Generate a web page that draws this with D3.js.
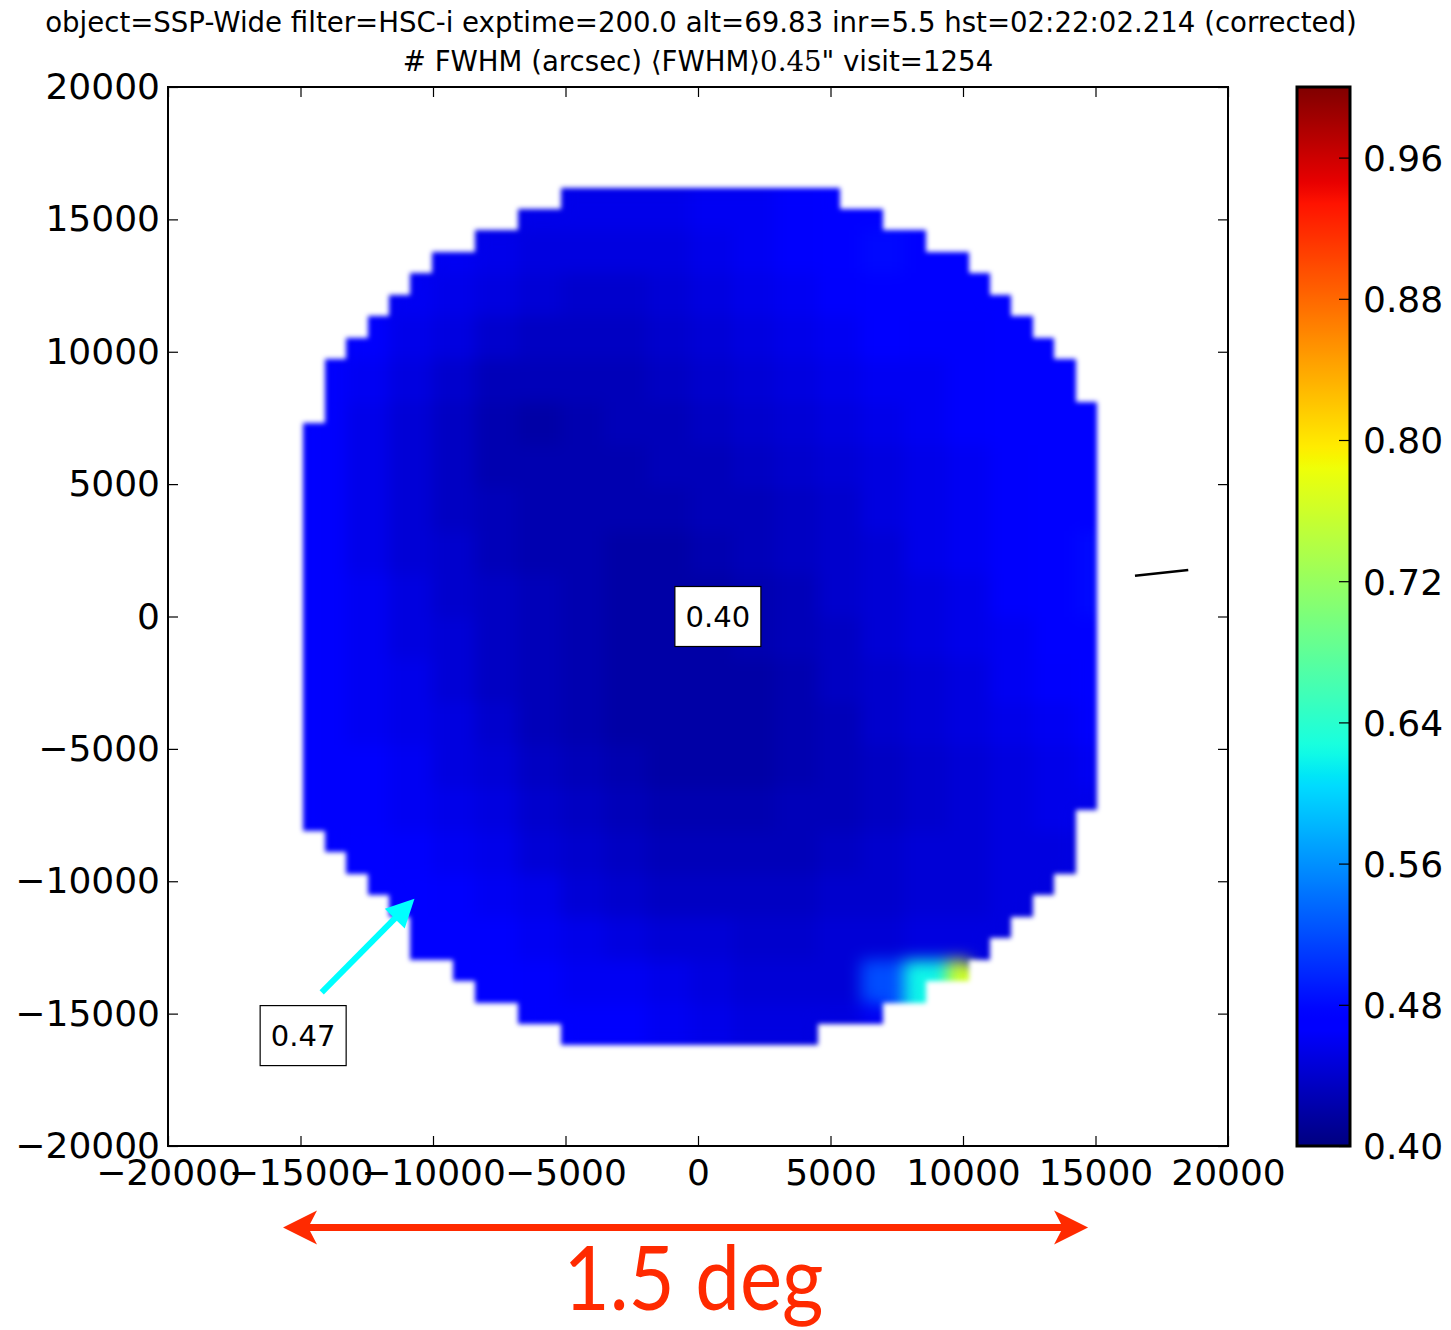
<!DOCTYPE html>
<html>
<head>
<meta charset="utf-8">
<script src="https://cdn.jsdelivr.net/npm/d3@7"></script>
<style>
  body { margin: 0; background: #fff; }
  svg { display: block; }
</style>
</head>
<body>
<svg id="chart" width="1451" height="1330"></svg>
<script>
// ---- FWHM map: focal-plane grid (pixel units), 2x2-cell blocks of FWHM (arcsec) ----
const cellSize = 810;
const gridX0 = -14900;   // left edge of column 0
const gridY0 = 16200;    // top edge of row 0

// detector footprint: first / last column covered in each grid row (top to bottom)
const rowFirst = [12,10,8,6,5,4,3,2,1,1,1,0,0,0,0,0,0,0,0,0,0,0,0,0,0,0,0,0,0,0,1,2,3,4,5,5,7,8,10,12];
const rowLast  = [24,26,28,30,31,32,33,34,35,35,36,36,36,36,36,36,36,36,36,36,36,36,36,36,36,36,36,36,36,35,35,35,34,33,32,31,30,28,26,23];

// FWHM per block (block row = 2 grid rows, block column = 2 grid columns)
const fwhm = [
  [null,null,null,null,null,.455,.455,.455,.455,.46,.46,.465,.47,.475,null,null,null,null,null],
  [null,null,null,.46,.455,.45,.45,.45,.45,.455,.46,.465,.475,.48,.47,.47,null,null,null],
  [null,null,.46,.455,.45,.445,.44,.44,.445,.45,.455,.46,.465,.47,.47,.47,.47,null,null],
  [null,.465,.455,.45,.44,.435,.435,.435,.44,.445,.45,.455,.46,.475,.465,.465,.47,.47,null],
  [.465,.46,.45,.44,.43,.43,.43,.43,.435,.44,.445,.45,.455,.46,.46,.465,.47,.47,null],
  [.465,.455,.445,.435,.425,.42,.425,.43,.43,.435,.44,.445,.45,.455,.46,.465,.47,.47,.47],
  [.465,.455,.445,.435,.425,.425,.425,.425,.43,.43,.435,.44,.445,.45,.455,.46,.465,.475,.47],
  [.465,.455,.445,.435,.43,.425,.425,.425,.425,.43,.43,.435,.44,.45,.455,.46,.465,.475,.475],
  [.465,.455,.445,.44,.43,.425,.425,.42,.42,.425,.43,.435,.44,.445,.455,.46,.465,.475,.48],
  [.465,.46,.45,.44,.435,.43,.425,.42,.42,.42,.425,.43,.44,.445,.45,.455,.465,.475,.48],
  [.465,.46,.45,.445,.435,.43,.425,.42,.42,.42,.425,.43,.435,.445,.45,.455,.46,.47,.475],
  [.465,.46,.455,.445,.435,.43,.425,.42,.42,.42,.42,.425,.435,.44,.445,.45,.46,.465,.47],
  [.465,.46,.455,.45,.44,.43,.425,.42,.42,.42,.42,.425,.43,.44,.445,.45,.455,.46,.465],
  [.465,.465,.46,.45,.445,.435,.43,.425,.42,.42,.42,.425,.43,.435,.44,.445,.45,.455,.46],
  [.465,.465,.46,.455,.45,.44,.435,.43,.425,.425,.425,.43,.43,.435,.44,.445,.45,.455,.455],
  [.465,.47,.465,.46,.455,.445,.44,.435,.43,.43,.43,.43,.435,.44,.445,.445,.45,.45,null],
  [null,.47,.47,.465,.46,.455,.445,.44,.435,.435,.435,.435,.44,.44,.445,.445,.45,.45,null],
  [null,null,.47,.47,.465,.46,.455,.45,.445,.445,.44,.44,.445,.445,.45,.45,.45,null,null],
  [null,null,null,.47,.47,.465,.46,.46,.455,.45,.445,.445,.445,.52,.62,.76,null,null,null],
  [null,null,null,null,null,.465,.465,.465,.46,.455,.45,.45,.45,.46,null,null,null,null,null]
];

// axis ticks
const xTicks = [-20000,-15000,-10000,-5000,0,5000,10000,15000,20000];
const yTicks = [-20000,-15000,-10000,-5000,0,5000,10000,15000,20000];
const cbarTicks = [0.40,0.48,0.56,0.64,0.72,0.80,0.88,0.96];

// annotations
const titleLine1 = "object=SSP-Wide filter=HSC-i exptime=200.0 alt=69.83 inr=5.5 hst=02:22:02.214 (corrected)";
const meanFwhm = "0.45";
const visitText = "\" visit=1254";
const centerLabel = { x: 750, y: 0, text: "0.40" };
const edgeLabel = { x: -14900, y: -15830, text: "0.47" };
const edgeArrow = { x0: -14200, y0: -14200, x1: -10700, y1: -10660 };
const dirStick = { x0: 16490, y0: 1540, x1: 18500, y1: 1755 };
const scaleBar = { x0: -15660, x1: 14720, y: -23080, text: "1.5 deg" };

// ---- scales ----
const plot = { left: 168, right: 1228, top: 87, bottom: 1146 };
const x = d3.scaleLinear().domain([-20000, 20000]).range([plot.left, plot.right]);
const y = d3.scaleLinear().domain([-20000, 20000]).range([plot.bottom, plot.top]);
const cbar = { left: 1297, right: 1350 };
const cy = d3.scaleLinear().domain([0.40, 1.00]).range([plot.bottom, plot.top]);

// jet colormap
const jetR = d3.scaleLinear().domain([0, 0.35, 0.66, 0.89, 1]).range([0, 0, 1, 1, 0.5]).clamp(true);
const jetG = d3.scaleLinear().domain([0, 0.125, 0.375, 0.64, 0.91, 1]).range([0, 0, 1, 1, 0, 0]).clamp(true);
const jetB = d3.scaleLinear().domain([0, 0.11, 0.34, 0.65, 1]).range([0.5, 1, 1, 0, 0]).clamp(true);
const norm = d3.scaleLinear().domain([0.40, 1.00]).range([0, 1]).clamp(true);
const jet = v => {
  const t = norm(v);
  return d3.rgb(Math.round(255 * jetR(t)), Math.round(255 * jetG(t)), Math.round(255 * jetB(t))).formatHex();
};

const fmtAxis = d => d < 0 ? "\u2212" + Math.abs(d) : String(d);
const FONT = "'DejaVu Sans', sans-serif";

const svg = d3.select("#chart");
const defs = svg.append("defs");

// smooth the field inside, keep a soft detector edge
const f = defs.append("filter").attr("id", "fieldSmooth")
  .attr("x", "-5%").attr("y", "-5%").attr("width", "110%").attr("height", "110%")
  .attr("color-interpolation-filters", "sRGB");
f.append("feGaussianBlur").attr("in", "SourceGraphic").attr("stdDeviation", 8).attr("result", "soft");
f.append("feComponentTransfer").attr("in", "soft").attr("result", "solid")
  .append("feFuncA").attr("type", "linear").attr("slope", 60).attr("intercept", 0);
f.append("feGaussianBlur").attr("in", "SourceAlpha").attr("stdDeviation", 2.6).attr("result", "edge");
f.append("feComposite").attr("in", "solid").attr("in2", "edge").attr("operator", "in");

// ---- FWHM cells ----
const cells = [];
rowFirst.forEach((c0, r) => {
  for (let c = c0; c <= rowLast[r]; c++) {
    const v = fwhm[r >> 1][c >> 1];
    if (v != null) cells.push({ r, c, v });
  }
});

svg.append("g").attr("filter", "url(#fieldSmooth)")
  .selectAll("rect").data(cells).join("rect")
  .attr("x", d => x(gridX0 + d.c * cellSize))
  .attr("y", d => y(gridY0 - d.r * cellSize))
  .attr("width", d => x(gridX0 + (d.c + 1) * cellSize) - x(gridX0 + d.c * cellSize))
  .attr("height", d => y(gridY0 - (d.r + 1) * cellSize) - y(gridY0 - d.r * cellSize))
  .attr("fill", d => jet(d.v))
  .attr("shape-rendering", "crispEdges");

// ---- axes (ticks inward on all four sides) ----
const tickLen = 10;
function styleAxis(g) {
  g.select(".domain").remove();
  g.selectAll(".tick line").attr("stroke", "#000").attr("stroke-width", 1.2);
  g.selectAll("text").attr("font-family", FONT).attr("font-size", 36).attr("fill", "#000");
}
svg.append("g").attr("transform", `translate(0,${plot.bottom})`)
  .call(d3.axisBottom(x).tickValues(xTicks).tickFormat(fmtAxis).tickSize(-tickLen).tickSizeOuter(0).tickPadding(13))
  .call(styleAxis);
svg.append("g").attr("transform", `translate(0,${plot.top})`)
  .call(d3.axisTop(x).tickValues(xTicks).tickFormat("").tickSize(-tickLen).tickSizeOuter(0))
  .call(styleAxis);
svg.append("g").attr("transform", `translate(${plot.left},0)`)
  .call(d3.axisLeft(y).tickValues(yTicks).tickFormat(fmtAxis).tickSize(-tickLen).tickSizeOuter(0).tickPadding(8))
  .call(styleAxis);
svg.append("g").attr("transform", `translate(${plot.right},0)`)
  .call(d3.axisRight(y).tickValues(yTicks).tickFormat("").tickSize(-tickLen).tickSizeOuter(0))
  .call(styleAxis);

svg.append("rect")
  .attr("x", plot.left).attr("y", plot.top)
  .attr("width", plot.right - plot.left).attr("height", plot.bottom - plot.top)
  .attr("fill", "none").attr("stroke", "#000").attr("stroke-width", 2);

// ---- annotations ----
function labelBox(lab) {
  const g = svg.append("g").attr("transform", `translate(${x(lab.x)},${y(lab.y)})`);
  g.append("rect").attr("x", -43).attr("y", -30).attr("width", 86).attr("height", 60)
    .attr("fill", "#fff").attr("stroke", "#000").attr("stroke-width", 1.2);
  g.append("text").attr("text-anchor", "middle").attr("dy", "0.36em")
    .attr("font-family", FONT).attr("font-size", 29).text(lab.text);
}
labelBox(centerLabel);
labelBox(edgeLabel);

// arrow pointing to the edge value
{
  const ax0 = x(edgeArrow.x0), ay0 = y(edgeArrow.y0), ax1 = x(edgeArrow.x1), ay1 = y(edgeArrow.y1);
  const ang = Math.atan2(ay1 - ay0, ax1 - ax0);
  const hl = 28, hw = 14;
  const bx = ax1 - hl * Math.cos(ang), by = ay1 - hl * Math.sin(ang);
  svg.append("line").attr("x1", ax0).attr("y1", ay0).attr("x2", bx + 2 * Math.cos(ang)).attr("y2", by + 2 * Math.sin(ang))
    .attr("stroke", "#00ffff").attr("stroke-width", 6);
  const px = -Math.sin(ang), py = Math.cos(ang);
  svg.append("path")
    .attr("d", `M${ax1},${ay1}L${bx + hw * px},${by + hw * py}L${bx - hw * px},${by - hw * py}Z`)
    .attr("fill", "#00ffff");
}

// short black direction stick
svg.append("line")
  .attr("x1", x(dirStick.x0)).attr("y1", y(dirStick.y0))
  .attr("x2", x(dirStick.x1)).attr("y2", y(dirStick.y1))
  .attr("stroke", "#000").attr("stroke-width", 2.5);

// ---- colorbar ----
const grad = defs.append("linearGradient").attr("id", "jetGrad")
  .attr("x1", 0).attr("y1", 1).attr("x2", 0).attr("y2", 0);
d3.range(0, 1.0001, 0.01).forEach(t => {
  grad.append("stop").attr("offset", t).attr("stop-color", jet(0.40 + 0.60 * t));
});
svg.append("rect")
  .attr("x", cbar.left).attr("y", cy(1.0))
  .attr("width", cbar.right - cbar.left).attr("height", cy(0.40) - cy(1.0))
  .attr("fill", "url(#jetGrad)").attr("stroke", "#000").attr("stroke-width", 3);
svg.append("g").attr("transform", `translate(${cbar.right},0)`)
  .call(d3.axisRight(cy).tickValues(cbarTicks).tickFormat(d3.format(".2f")).tickSize(-11).tickSizeOuter(0).tickPadding(13))
  .call(styleAxis)
  .call(g => g.selectAll(".tick text").attr("dy", "0.36em"));

// ---- titles ----
svg.append("text").attr("x", 701).attr("y", 32).attr("text-anchor", "middle")
  .attr("font-family", FONT).attr("font-size", 27.6).text(titleLine1);
const t2 = svg.append("text").attr("x", 698).attr("y", 71).attr("text-anchor", "middle")
  .attr("font-family", FONT).attr("font-size", 27.6);
t2.append("tspan").text("# FWHM (arcsec) ");
t2.append("tspan").attr("font-family", "'DejaVu Serif', serif").text("\u27E8");
t2.append("tspan").text("FWHM");
t2.append("tspan").attr("font-family", "'DejaVu Serif', serif").text("\u27E9");
t2.append("tspan").attr("font-family", "'DejaVu Serif', serif").text(meanFwhm);
t2.append("tspan").text(visitText);

// ---- angular scale bar ----
{
  const sx0 = x(scaleBar.x0), sx1 = x(scaleBar.x1), sy = y(scaleBar.y);
  const hl = 34, hw = 17, sw = 3.5, notch = 7;
  svg.append("path")
    .attr("d", `M${sx0},${sy}L${sx0 + hl},${sy - hw}L${sx0 + hl - notch},${sy - sw}L${sx1 - hl + notch},${sy - sw}` +
               `L${sx1 - hl},${sy - hw}L${sx1},${sy}L${sx1 - hl},${sy + hw}L${sx1 - hl + notch},${sy + sw}` +
               `L${sx0 + hl - notch},${sy + sw}L${sx0 + hl},${sy + hw}Z`)
    .attr("fill", "#ff2a00");
  svg.append("text").attr("x", (sx0 + sx1) / 2 + 8).attr("y", 1310).attr("text-anchor", "middle")
    .attr("font-family", "Lato, 'Open Sans', sans-serif").attr("font-size", 90)
    .attr("textLength", 260).attr("lengthAdjust", "spacingAndGlyphs")
    .attr("fill", "#ff2a00").text(scaleBar.text);
}
</script>
</body>
</html>
